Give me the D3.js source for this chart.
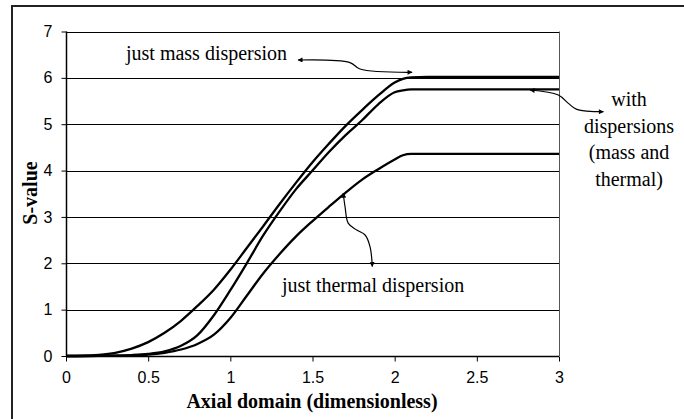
<!DOCTYPE html>
<meta charset="utf-8">
<script src="https://d3js.org/d3.v7.min.js"></script>
<style>
  body { margin: 0; background: #fff; }
  .tick text { font-family: Arial, "Liberation Sans", sans-serif; font-size: 16px; fill: #000; }
  .serif { font-family: "Times New Roman", "Liberation Serif", serif; }
</style>
<div id="my_dataviz"></div>
<script>

// data
var xs      = [0, 0.1, 0.2, 0.3, 0.4, 0.5, 0.6, 0.7, 0.8, 0.9, 1.0, 1.1, 1.2, 1.3, 1.4, 1.5, 1.6, 1.7, 1.8, 1.9, 2.0, 2.05, 2.1, 2.2, 3.0]
var massOnly    = [0, 0.005, 0.025, 0.07, 0.16, 0.3, 0.5, 0.76, 1.08, 1.43, 1.86, 2.33, 2.8, 3.28, 3.74, 4.18, 4.58, 4.96, 5.3, 5.62, 5.9, 5.98, 6.01, 6.02, 6.02]
var bothDisp    = [0, 0, 0.002, 0.008, 0.02, 0.045, 0.1, 0.22, 0.45, 0.88, 1.42, 2.0, 2.6, 3.12, 3.6, 4.0, 4.4, 4.76, 5.08, 5.43, 5.69, 5.73, 5.75, 5.75, 5.75]
var thermalOnly = [0, 0, 0.002, 0.006, 0.015, 0.03, 0.07, 0.14, 0.26, 0.46, 0.82, 1.3, 1.78, 2.2, 2.58, 2.91, 3.22, 3.52, 3.8, 4.03, 4.24, 4.33, 4.36, 4.36, 4.36]

var xTicks = [0, 0.5, 1, 1.5, 2, 2.5, 3]
var yTicks = [0, 1, 2, 3, 4, 5, 6, 7]

// annotation arrows, in data units
var massArrow    = [[1.412, 6.385], [1.728, 6.33], [1.789, 6.19], [2.106, 6.12]]
var bothArrow    = [[2.824, 5.738], [2.996, 5.63], [3.057, 5.45], [3.108, 5.32], [3.27, 5.27]]
var thermalArrow = [[1.687, 3.51], [1.698, 3.22], [1.718, 2.86], [1.769, 2.72], [1.82, 2.61], [1.85, 2.36], [1.864, 1.93]]

var W = 684, H = 419

var svg = d3.select("#my_dataviz")
  .append("svg")
    .attr("width", W)
    .attr("height", H)

// outer frame (right/bottom edges fall off the canvas)
svg.append("rect")
  .attr("x", 12).attr("y", 6)
  .attr("width", 800).attr("height", 600)
  .attr("fill", "none")
  .attr("stroke", "#222")
  .attr("stroke-width", 2)

var x = d3.scaleLinear().domain([0, 3]).range([66, 559])
var y = d3.scaleLinear().domain([0, 7]).range([356, 31.5])

// gridlines
svg.append("g")
  .selectAll("line")
  .data(yTicks.slice(1))
  .join("line")
    .attr("x1", x(0)).attr("x2", x(3))
    .attr("y1", function(d) { return Math.round(y(d)) + 0.5 })
    .attr("y2", function(d) { return Math.round(y(d)) + 0.5 })
    .attr("stroke", "#000")
    .attr("stroke-width", 1)

// right edge of plot area
svg.append("line")
  .attr("x1", Math.round(x(3)) + 0.5).attr("x2", Math.round(x(3)) + 0.5)
  .attr("y1", y(7)).attr("y2", y(0))
  .attr("stroke", "#555")

// axes
var fmt = function(d) { return d3.format("")(d) }
var xAxis = svg.append("g")
  .attr("transform", "translate(0," + (Math.round(y(0)) + 0.5) + ")")
  .call(d3.axisBottom(x).tickValues(xTicks).tickSize(5).tickPadding(10).tickFormat(fmt))
var yAxis = svg.append("g")
  .attr("transform", "translate(" + (Math.round(x(0)) + 0.5) + ",0)")
  .call(d3.axisLeft(y).tickValues(yTicks).tickSize(5).tickPadding(9).tickFormat(fmt))

svg.selectAll(".domain").attr("stroke", "#000").attr("stroke-width", 1.5)
svg.selectAll(".tick line").attr("stroke", "#000")
xAxis.selectAll(".domain").attr("d", "M" + x(0) + ",0H" + x(3))
yAxis.selectAll(".domain").attr("d", "M0," + y(0) + "V" + y(7))

// curves
var line = d3.line()
  .x(function(d) { return x(d[0]) })
  .y(function(d) { return y(d[1]) })
  .curve(d3.curveMonotoneX)

;[massOnly, bothDisp, thermalOnly].forEach(function(series) {
  svg.append("path")
    .datum(xs.map(function(v, i) { return [v, series[i]] }))
    .attr("fill", "none")
    .attr("stroke", "#000")
    .attr("stroke-width", 2.3)
    .attr("d", line)
})

// arrow markers
var defs = svg.append("defs")
defs.append("marker")
  .attr("id", "head")
  .attr("viewBox", "0 0 10 10")
  .attr("refX", 9).attr("refY", 5)
  .attr("markerWidth", 7).attr("markerHeight", 5)
  .attr("markerUnits", "userSpaceOnUse")
  .attr("orient", "auto-start-reverse")
  .append("path")
    .attr("d", "M0,0L10,5L0,10z")
    .attr("fill", "#000")

var arrowLine = d3.line()
  .x(function(d) { return x(d[0]) })
  .y(function(d) { return y(d[1]) })
  .curve(d3.curveCatmullRom)

;[massArrow, bothArrow, thermalArrow].forEach(function(pts) {
  svg.append("path")
    .datum(pts)
    .attr("fill", "none")
    .attr("stroke", "#000")
    .attr("stroke-width", 1.2)
    .attr("marker-start", "url(#head)")
    .attr("marker-end", "url(#head)")
    .attr("d", arrowLine)
})

// annotation text
svg.append("text").attr("class", "serif")
  .attr("x", 126).attr("y", 60)
  .style("font-size", "20px")
  .text("just mass dispersion")

svg.append("text").attr("class", "serif")
  .attr("x", 282).attr("y", 292)
  .style("font-size", "20px")
  .text("just thermal dispersion")

var withLines = ["with", "dispersions", "(mass and", "thermal)"]
svg.append("g").selectAll("text")
  .data(withLines)
  .join("text")
    .attr("class", "serif")
    .attr("x", 629)
    .attr("y", function(d, i) { return 106 + i * 26.7 })
    .attr("text-anchor", "middle")
    .style("font-size", "20px")
    .text(function(d) { return d })

// axis titles
svg.append("text").attr("class", "serif")
  .attr("x", 312).attr("y", 408)
  .attr("text-anchor", "middle")
  .style("font-size", "20px")
  .style("font-weight", "bold")
  .text("Axial domain (dimensionless)")

svg.append("text").attr("class", "serif")
  .attr("transform", "translate(37,193) rotate(-90)")
  .attr("text-anchor", "middle")
  .style("font-size", "20px")
  .style("font-weight", "bold")
  .text("S-value")

</script>
